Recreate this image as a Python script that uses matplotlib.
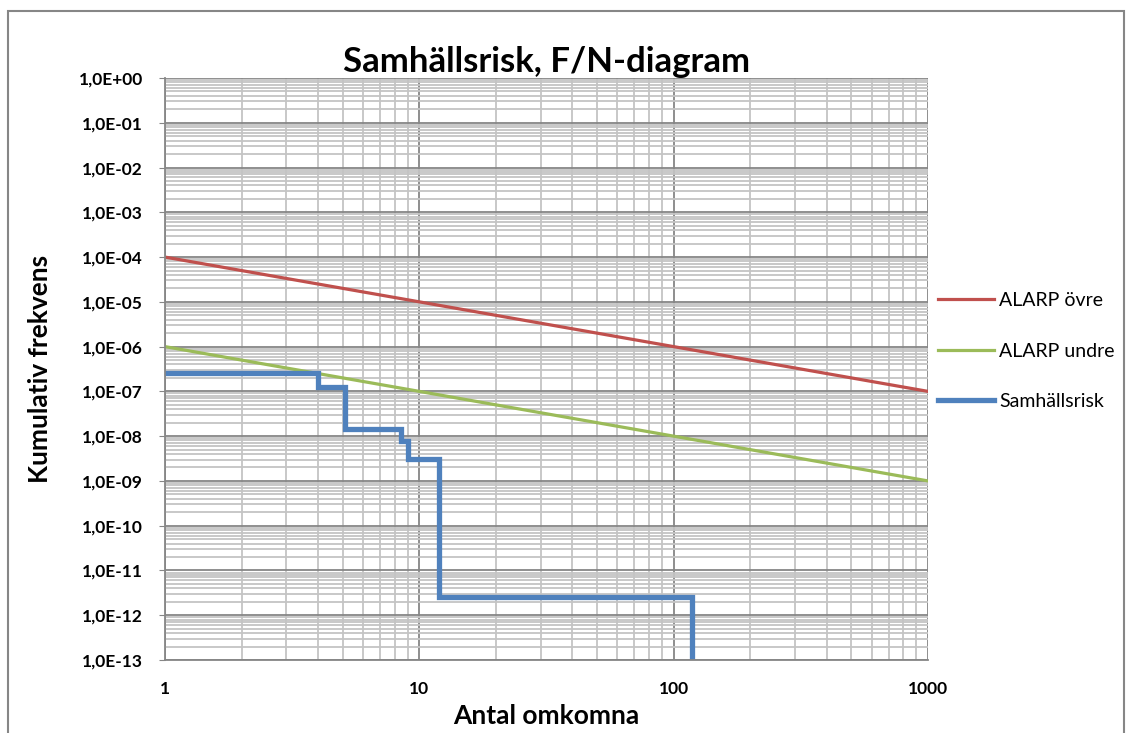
import numpy as np
import matplotlib.pyplot as plt
from matplotlib.ticker import LogLocator, FixedLocator, NullFormatter
from matplotlib.patches import Rectangle

plt.rcParams['font.family'] = ['Lato', 'DejaVu Sans']

# ALARP-gränser (F = C / N)
n_alarp = [1, 1000]
f_ovre = [1e-4, 1e-7]
f_undre = [1e-6, 1e-9]

# Samhällsrisk, trappkurva (N, F)
n_risk = [1, 4, 4, 5.1, 5.1, 8.5, 8.5, 9, 9, 12, 12, 118, 118]
f_risk = [2.6e-7, 2.6e-7, 1.25e-7, 1.25e-7, 1.45e-8, 1.45e-8, 7.8e-9, 7.8e-9,
          3.1e-9, 3.1e-9, 2.55e-12, 2.55e-12, 1e-14]

x_ticks = [1, 10, 100, 1000]
y_exp = list(range(0, -14, -1))

fig = plt.figure(figsize=(11.28, 7.33), dpi=100)
ax = fig.add_axes([165 / 1128, 1 - 660 / 733, (928 - 165) / 1128, (660 - 78) / 733])

# ram runt diagrammet
fig.patches.append(Rectangle((8 / 1128, -0.05), 1116 / 1128, 1.05 - 11 / 733,
                             transform=fig.transFigure, fill=False,
                             edgecolor='#868686', linewidth=1.5))

ax.set_xscale('log')
ax.set_yscale('log')
ax.set_xlim(1, 1000)
ax.set_ylim(1e-13, 1)

ax.xaxis.set_major_locator(FixedLocator(x_ticks))
ax.xaxis.set_minor_locator(LogLocator(base=10, subs=np.arange(2, 10)))
ax.xaxis.set_minor_formatter(NullFormatter())
ax.set_xticklabels([str(v) for v in x_ticks])

yt = [10.0 ** e for e in y_exp]
ax.yaxis.set_major_locator(FixedLocator(yt))
ax.yaxis.set_minor_locator(LogLocator(base=10, subs=np.arange(2, 10), numticks=50))
ax.yaxis.set_minor_formatter(NullFormatter())
ax.set_yticklabels(['1,0E%+03d' % e for e in y_exp])

ax.grid(which='minor', color='#c4c4c4', linewidth=1.3)
ax.grid(which='major', color='#868686', linewidth=1.3)
ax.set_axisbelow(True)

for s in ['top', 'right']:
    ax.spines[s].set_visible(False)
ax.spines['left'].set_color('#868686')
ax.spines['bottom'].set_color('#868686')
ax.spines['left'].set_linewidth(1.3)
ax.spines['bottom'].set_linewidth(1.3)

ax.tick_params(axis='y', which='major', length=4, color='#868686', pad=12,
               labelsize=12.5)
ax.tick_params(axis='y', which='minor', length=0)
ax.tick_params(axis='x', which='both', length=0, pad=15, labelsize=12.5)
for lab in ax.get_xticklabels() + ax.get_yticklabels():
    lab.set_fontweight('bold')

ax.plot(n_alarp, f_ovre, color='#C0504D', linewidth=2.3, label='ALARP övre')
ax.plot(n_alarp, f_undre, color='#9BBB59', linewidth=2.3, label='ALARP undre')
ax.plot(n_risk, f_risk, color='#4F81BD', linewidth=3.8, label='Samhällsrisk',
        solid_joinstyle='miter', clip_on=True)

ax.set_title('Samhällsrisk, F/N-diagram', fontsize=25, fontweight='bold', pad=4)
ax.set_xlabel('Antal omkomna', fontsize=19, fontweight='bold', labelpad=5)
ax.set_ylabel('Kumulativ frekvens', fontsize=19, fontweight='bold', labelpad=19)

leg = ax.legend(loc='upper left', bbox_to_anchor=(0.99, 0.662), frameon=False,
                fontsize=14, handlelength=2.9, labelspacing=1.72,
                handletextpad=0.25)

fig.savefig('out.png', dpi=100)
